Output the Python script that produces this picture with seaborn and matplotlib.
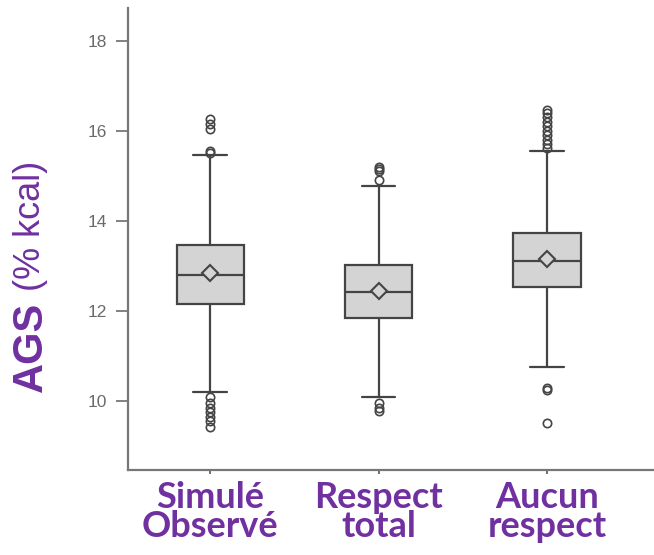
import matplotlib
matplotlib.use("Agg")
import matplotlib.pyplot as plt
import seaborn as sns

# ---- data ----
categories = ["Simulé\nObservé", "Respect\ntotal", "Aucun\nrespect"]
q1 = [12.16, 11.84, 12.53]
medians = [12.80, 12.42, 13.11]
q3 = [13.47, 13.02, 13.73]
means = [12.84, 12.44, 13.15]
whisker_low = [10.20, 10.09, 10.76]
whisker_high = [15.47, 14.78, 15.56]
outliers = [
    [16.27, 16.15, 16.05, 15.55, 15.50, 10.10, 9.95, 9.85, 9.75, 9.65, 9.55, 9.42],
    [15.20, 15.15, 15.10, 14.90, 9.95, 9.85, 9.78],
    [16.47, 16.40, 16.30, 16.20, 16.10, 16.00, 15.90, 15.80, 15.70, 15.62,
     10.30, 10.25, 9.52],
]
yticks = [10, 12, 14, 16, 18]

purple = "#7030A0"
line_c = "#444444"

sns.set_theme(style="white")
plt.rcParams["font.family"] = ["Lato", "DejaVu Sans"]

fig = plt.figure(figsize=(6.54, 5.55), dpi=100)
ax = fig.add_axes([0.196, 0.153, 0.804, 0.833])

stats = []
for i in range(len(categories)):
    stats.append(dict(med=medians[i], q1=q1[i], q3=q3[i], mean=means[i],
                      whislo=whisker_low[i], whishi=whisker_high[i],
                      fliers=outliers[i], label=categories[i]))

ax.bxp(stats, positions=range(len(categories)), widths=0.4,
       showmeans=True, patch_artist=True,
       boxprops=dict(facecolor="#d4d4d4", edgecolor=line_c, linewidth=1.6),
       medianprops=dict(color=line_c, linewidth=1.6),
       whiskerprops=dict(color=line_c, linewidth=1.6),
       capprops=dict(color=line_c, linewidth=1.6),
       meanprops=dict(marker="D", markerfacecolor="#d4d4d4", markeredgecolor=line_c,
                      markersize=8, markeredgewidth=1.5),
       flierprops=dict(marker="o", markerfacecolor="none", markeredgecolor=line_c,
                       markersize=6, markeredgewidth=1.2))

ax.set_xlim(-0.487, 2.635)
ax.set_ylim(8.47, 18.73)
ax.set_yticks(yticks)
ax.set_yticklabels([str(t) for t in yticks], color="#6a6a6a", fontsize=12.5,
                   family=["Liberation Sans", "DejaVu Sans"])
ax.set_xticks(range(len(categories)))
ax.set_xticklabels(categories, color=purple, fontsize=26, fontweight="bold",
                   linespacing=0.85)
ax.tick_params(axis="y", which="both", left=True, length=9, width=1.3,
               color="#777777", direction="out", pad=6)
ax.tick_params(axis="x", bottom=True, length=3, width=1.2, color="#555555",
               direction="out", pad=5)

for s in ["top", "right"]:
    ax.spines[s].set_visible(False)
for s in ["left", "bottom"]:
    ax.spines[s].set_color("#777777")
    ax.spines[s].set_linewidth(1.6)

# y label: bold "AGS" + regular "(% kcal)"
fig.text(0.047, 0.375, "AGS", rotation=90, color=purple, fontsize=30,
         fontweight="bold", ha="center", va="center",
         family=["Liberation Sans", "DejaVu Sans"])
fig.text(0.047, 0.593, "(% kcal)", rotation=90, color=purple, fontsize=26,
         ha="center", va="center", family=["Liberation Sans", "DejaVu Sans"])

fig.savefig("out.png", dpi=100)
